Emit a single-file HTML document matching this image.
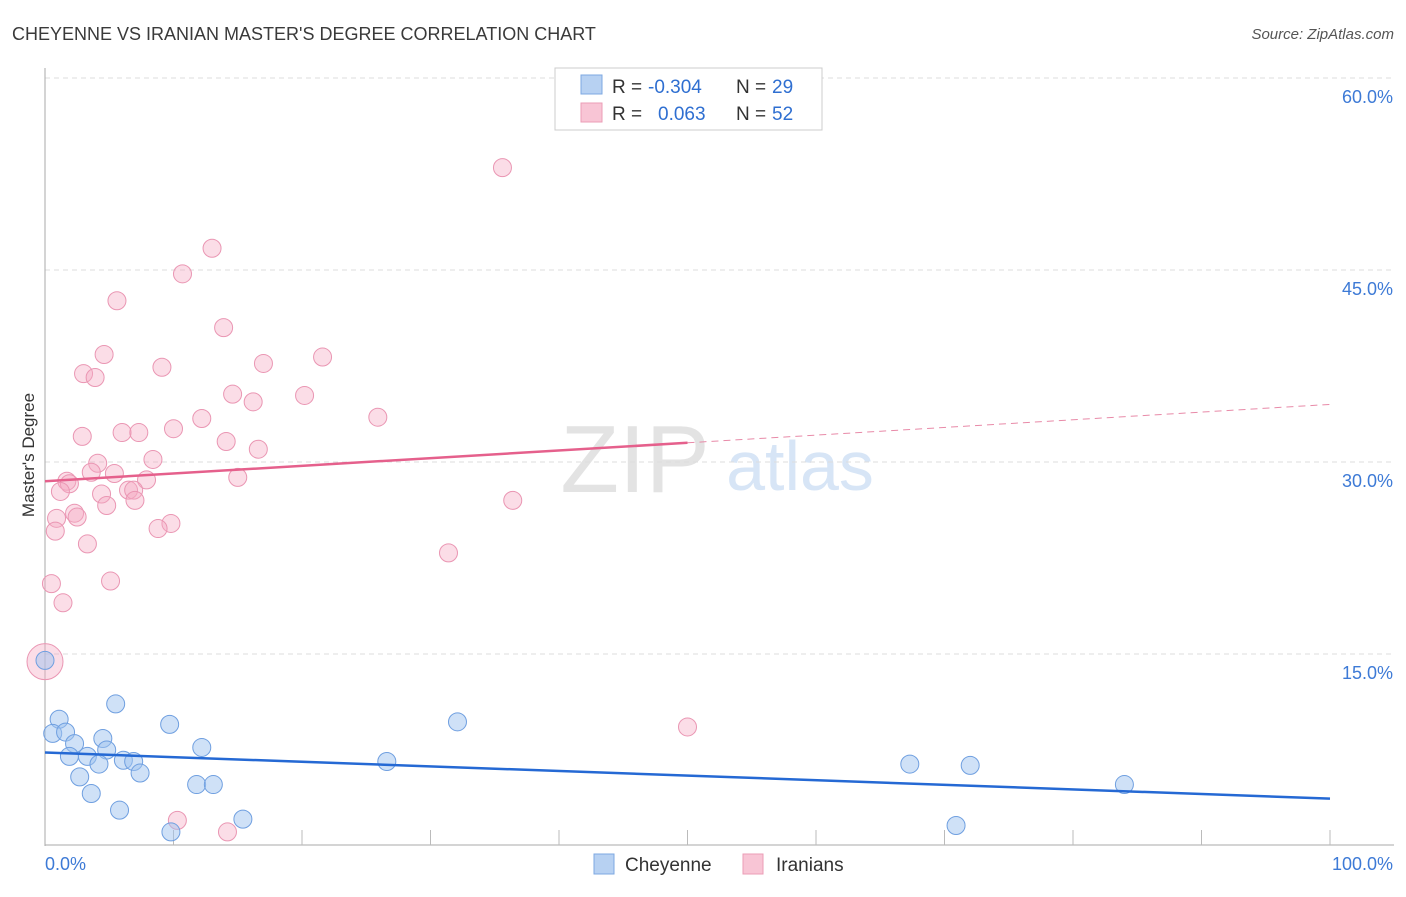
<!DOCTYPE html>
<html><head><meta charset="utf-8"><style>
body{margin:0;background:#fff;font-family:"Liberation Sans",sans-serif;}
svg text{font-family:"Liberation Sans",sans-serif;}
</style></head><body>
<svg id="c" width="1406" height="892">
<text x="12" y="40" font-size="18" fill="#3a3a3a">CHEYENNE VS IRANIAN MASTER'S DEGREE CORRELATION CHART</text>
<text x="1394" y="39" font-size="15" fill="#555" text-anchor="end" font-style="italic">Source: ZipAtlas.com</text>
<text x="635" y="492" font-size="96" fill="#e3e3e3" font-family="Liberation Serif" text-anchor="middle">ZIP</text>
<text x="800" y="490" font-size="70" fill="#d7e5f6" text-anchor="middle">atlas</text>
<text x="34" y="455" font-size="17" fill="#333" text-anchor="middle" transform="rotate(-90 34 455)">Master's Degree</text>
<g id="grid"></g><g id="pts"></g><g id="lines"></g>
<g>
<rect x="555" y="68" width="267" height="62" fill="#fff" stroke="#ccc"/>
<rect x="581" y="75" width="21" height="19" fill="#b7d1f2" stroke="#7ea8e2"/>
<rect x="581" y="103" width="21" height="19" fill="#f8c5d5" stroke="#eb9db6"/>
<text x="612" y="93" font-size="19" fill="#333">R = </text>
<text x="648" y="93" font-size="19" fill="#2f6fd1">-0.304</text>
<text x="736" y="93" font-size="19" fill="#333">N = </text>
<text x="772" y="93" font-size="19" fill="#2f6fd1">29</text>
<text x="612" y="120" font-size="19" fill="#333">R = </text>
<text x="658" y="120" font-size="19" fill="#2f6fd1">0.063</text>
<text x="736" y="120" font-size="19" fill="#333">N = </text>
<text x="772" y="120" font-size="19" fill="#2f6fd1">52</text>
</g>
<g>
<rect x="594" y="854" width="20" height="20" fill="#b7d1f2" stroke="#7ea8e2"/>
<text x="625" y="871" font-size="19" fill="#333">Cheyenne</text>
<rect x="743" y="854" width="20" height="20" fill="#f8c5d5" stroke="#eb9db6"/>
<text x="776" y="871" font-size="19" fill="#333">Iranians</text>
</g>
</svg>
<script>
const yTicks=[15,30,45,60];
const xLabels=["0.0%","100.0%"];
const blueX=[0,5.5,1.1,9.7,32.1,0.6,1.6,2.3,4.5,4.8,12.2,1.9,3.3,6.1,6.9,4.2,26.6,7.4,2.7,11.8,13.1,3.6,67.3,72.0,84.0,5.8,15.4,9.8,70.9];
const blueY=[14.5,11.1,9.9,9.5,9.7,8.8,8.9,8.0,8.4,7.5,7.7,7.0,7.0,6.7,6.6,6.4,6.6,5.7,5.4,4.8,4.8,4.1,6.4,6.3,4.8,2.8,2.1,1.1,1.6];
const pinkX=[35.6,13.0,10.7,5.6,13.9,4.6,9.1,17.0,21.6,3.0,3.9,14.6,16.2,20.2,25.9,12.2,2.9,6.0,7.3,10.0,14.1,16.6,8.4,4.1,3.6,5.4,1.7,1.9,1.2,15.0,7.9,6.5,6.9,4.4,7.0,4.8,36.4,2.3,2.5,0.9,9.8,8.8,0.8,3.3,31.4,5.1,0.5,1.4,50.0,10.3,14.2,0];
const pinkY=[53.0,46.7,44.7,42.6,40.5,38.4,37.4,37.7,38.2,36.9,36.6,35.3,34.7,35.2,33.5,33.4,32.0,32.3,32.3,32.6,31.6,31.0,30.2,29.9,29.2,29.1,28.5,28.3,27.7,28.8,28.6,27.8,27.8,27.5,27.0,26.6,27.0,26.0,25.7,25.6,25.2,24.8,24.6,23.6,22.9,20.7,20.5,19.0,9.3,2.0,1.1,14.4];
const blueTrend=[7.3,3.7];
const pinkTrend=[28.5,34.5];
const NS='http://www.w3.org/2000/svg';
const X=v=>45+v*12.85, Y=v=>846-v*12.8;
function mk(t,a,p){const e=document.createElementNS(NS,t);for(const k in a)e.setAttribute(k,a[k]);p.appendChild(e);return e;}
const g=document.getElementById('grid');
yTicks.forEach(t=>{const l=mk('line',{x1:45,x2:1394,y1:Y(t),y2:Y(t),stroke:'#ddd','stroke-dasharray':'5,4'},g);


const tx=mk('text',{x:1393,y:Y(t)+25,'font-size':18,fill:'#3d7ad6','text-anchor':'end'},g);tx.textContent=t.toFixed(1)+'%';

});
mk('line',{x1:45,x2:45,y1:68,y2:846,stroke:'#aaa'},g);
mk('line',{x1:45,x2:1394,y1:845,y2:845,stroke:'#aaa'},g);
for(let k=1;k<=10;k++){mk('line',{x1:X(k*10),x2:X(k*10),y1:830,y2:845,stroke:'#bbb'},g);}
[[0,'start',45],[100,'end',1393]].forEach((d,i)=>{const tx=mk('text',{x:d[2],y:870,'font-size':18,fill:'#3d7ad6','text-anchor':d[1]},g);tx.textContent=xLabels[i];

});
const p=document.getElementById('pts');
pinkX.forEach((x,i)=>{const big=i===pinkX.length-1;const c=mk('circle',{cx:X(x),cy:Y(pinkY[i]),r:big?18:9,fill:'rgba(244,170,196,0.4)',stroke:'#ea96b3','stroke-width':1},p);

});
blueX.forEach((x,i)=>{const c=mk('circle',{cx:X(x),cy:Y(blueY[i]),r:9,fill:'rgba(160,195,240,0.5)',stroke:'#6f9fe0','stroke-width':1},p);

});
const L=document.getElementById('lines');
const bl=mk('line',{x1:X(0),y1:Y(blueTrend[0]),x2:X(100),y2:Y(blueTrend[1]),stroke:'#2569d4','stroke-width':2.5},L);


const pm=(pinkTrend[0]+pinkTrend[1])/2;
const pl=mk('line',{x1:X(0),y1:Y(pinkTrend[0]),x2:X(50),y2:Y(pm),stroke:'#e5608c','stroke-width':2.5},L);


const pd=mk('line',{x1:X(50),y1:Y(pm),x2:X(100),y2:Y(pinkTrend[1]),stroke:'#e88aa8','stroke-width':1,'stroke-dasharray':'7,5'},L);


</script>
</body></html>
